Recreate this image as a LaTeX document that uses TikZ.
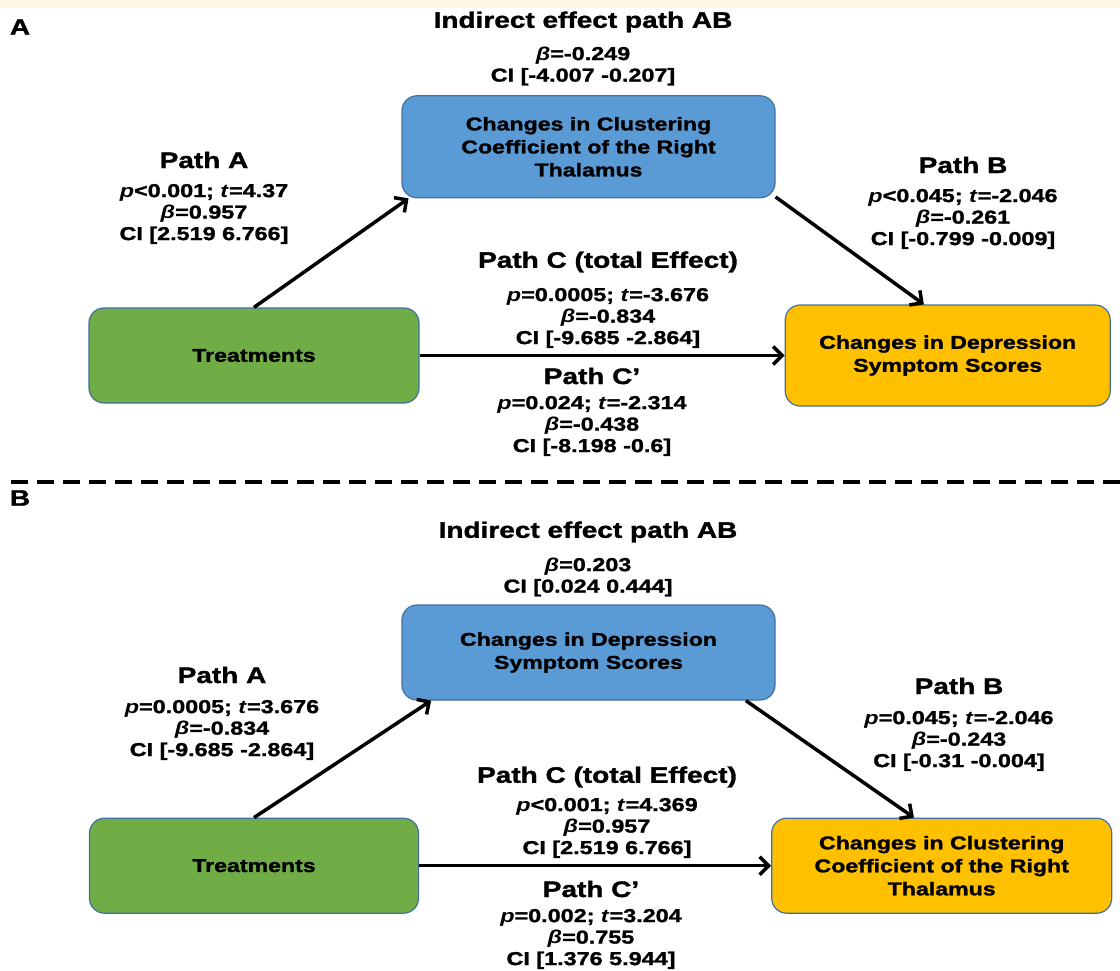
\documentclass[tikz,border=0pt]{standalone}
\usepackage{fontspec}
\setmainfont{Liberation Sans}[FakeStretch=1.25, BoldFeatures={FakeBold=1.5}]
\usetikzlibrary{positioning, arrows.meta}
\definecolor{boxblue}{HTML}{5B9BD5}
\definecolor{boxgreen}{HTML}{70AD47}
\definecolor{boxyellow}{HTML}{FFC000}
\definecolor{boxedge}{HTML}{41719C}
\definecolor{cream}{HTML}{FEF6E4}
\tikzset{
box/.style={draw=boxedge, line width=1.2pt, rounded corners=15pt, align=center,
  font=\fontsize{18.5}{23}\selectfont\bfseries}, % the three boxes of each model
ttl/.style={font=\fontsize{22.4}{26}\selectfont\bfseries, inner sep=0pt}, % path headings
stats/.style={align=center, inner sep=0pt,
  font=\fontsize{18.7}{21.5}\selectfont\bfseries}, % p, t, beta and CI lines
effect/.style={-{Straight Barb[length=9pt,width=18pt]}, line width=3.5pt}, % path arrows
sep/.style={line width=3.5pt, dash pattern=on 17pt off 9pt}, % line between A and B
}

\begin{document}
\begin{tikzpicture}[x=1pt, y=-1pt]
  \fill[white] (0,0) rectangle (1120,971);
  \fill[cream] (0,0) rectangle (1120,8);
  \useasboundingbox (0,0) rectangle (1120,971);

  % panel A
  \node[box, fill=boxgreen, minimum width=330pt, minimum height=95pt] (treatA) at (254,355.5) {Treatments};
  \node[box, fill=boxyellow, minimum width=325pt, minimum height=101pt, right=365pt of treatA] (deprA) {Changes in Depression\\Symptom Scores};
  \node[box, fill=boxblue, minimum width=373pt, minimum height=102pt, above=109pt of treatA, xshift=334.5pt] (clustA) {Changes in Clustering\\Coefficient of the Right\\Thalamus};

  \node[ttl] (lblA) at (20,27) {A};
  \node[ttl] (abA) at (583,22) {Indirect effect path AB};
  \node[stats] (abAst) at (583,66) {\textit{β}=-0.249\\CI [-4.007 -0.207]};
  \node[ttl] (pA) at (204,160) {Path A};
  \node[stats] (pAst) at (204,214) {\textit{p}<0.001; \textit{t}=4.37\\\textit{β}=0.957\\CI [2.519 6.766]};
  \node[ttl] (pB) at (963,165) {Path B};
  \node[stats] (pBst) at (963,219) {\textit{p}<0.045; \textit{t}=-2.046\\\textit{β}=-0.261\\CI [-0.799 -0.009]};
  \node[ttl] (pC) at (608,262) {Path C (total Effect)};
  \node[stats] (pCst) at (608,318) {\textit{p}=0.0005; \textit{t}=-3.676\\\textit{β}=-0.834\\CI [-9.685 -2.864]};
  \node[ttl] (pCp) at (592,376) {Path C’};
  \node[stats] (pCpst) at (592,426) {\textit{p}=0.024; \textit{t}=-2.314\\\textit{β}=-0.438\\CI [-8.198 -0.6]};

  \draw[effect] (treatA.north) -- (clustA.196);
  \draw[effect] (clustA.-15) -- (deprA.115);
  \draw[effect] (treatA) -- (deprA);

  \coordinate (sepL) at (11,482);
  \coordinate (sepR) at (1120,482);
  \draw[sep] (sepL) -- (sepR);

  % panel B
  \node[box, fill=boxgreen, minimum width=329pt, minimum height=95pt, below=414pt of treatA] (treatB) {Treatments};
  \node[box, fill=boxyellow, minimum width=340pt, minimum height=95pt, right=352pt of treatB] (clustB) {Changes in Clustering\\Coefficient of the Right\\Thalamus};
  \node[box, fill=boxblue, minimum width=373pt, minimum height=95pt, above=117pt of treatB, xshift=334.5pt] (deprB) {Changes in Depression\\Symptom Scores};

  \node[ttl] (lblB) at (20,498) {B};
  \node[ttl] (abB) at (588,532) {Indirect effect path AB};
  \node[stats] (abBst) at (588,577) {\textit{β}=0.203\\CI [0.024 0.444]};
  \node[ttl] (qA) at (222,675) {Path A};
  \node[stats] (qAst) at (222,730) {\textit{p}=0.0005; \textit{t}=3.676\\\textit{β}=-0.834\\CI [-9.685 -2.864]};
  \node[ttl] (qB) at (959,686) {Path B};
  \node[stats] (qBst) at (959,741) {\textit{p}=0.045; \textit{t}=-2.046\\\textit{β}=-0.243\\CI [-0.31 -0.004]};
  \node[ttl] (qC) at (607,777) {Path C (total Effect)};
  \node[stats] (qCst) at (607,828) {\textit{p}<0.001; \textit{t}=4.369\\\textit{β}=0.957\\CI [2.519 6.766]};
  \node[ttl] (qCp) at (591,889) {Path C’};
  \node[stats] (qCpst) at (591,939) {\textit{p}=0.002; \textit{t}=3.204\\\textit{β}=0.755\\CI [1.376 5.944]};

  \draw[effect] (treatB.north) -- (deprB.197);
  \draw[effect] (deprB.-17) -- (clustB.120);
  \draw[effect] (treatB) -- (clustB);
\end{tikzpicture}
\end{document}
